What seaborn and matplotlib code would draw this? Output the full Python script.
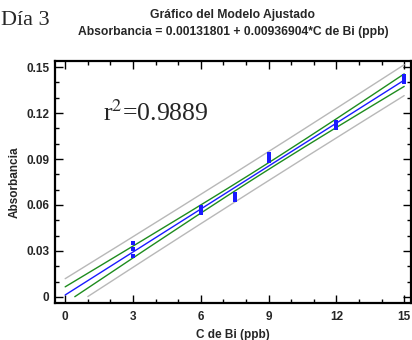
import numpy as np
import pandas as pd
import seaborn as sns
import matplotlib
matplotlib.use("Agg")
import matplotlib.pyplot as plt
from matplotlib.ticker import MultipleLocator

# ---- data ----
conc = [3, 3, 3, 6, 6, 6, 7.5, 7.5, 7.5, 9, 9, 9, 12, 12, 12, 15, 15, 15]
absorb = [0.027, 0.031, 0.035, 0.055, 0.057, 0.059, 0.063, 0.065, 0.067,
          0.089, 0.091, 0.093, 0.110, 0.113, 0.114, 0.140, 0.142, 0.144]
x_ticks = [0, 3, 6, 9, 12, 15]
y_ticks = [0, 0.03, 0.06, 0.09, 0.12, 0.15]
y_tick_labels = ["0", "0.03", "0.06", "0.09", "0.12", "0.15"]
title_lines = ["Gráfico del Modelo Ajustado",
               "Absorbancia = 0.00131801 + 0.00936904*C de Bi (ppb)"]
r2_text = "r$^2$=0.9889"
day_text = "Día 3"

# ---- fit & 95% bands ----
x = np.array(conc, float)
y = np.array(absorb, float)
n = len(x)
b1, b0 = np.polyfit(x, y, 1)
res = y - (b0 + b1 * x)
s = np.sqrt(np.sum(res**2) / (n - 2))
sxx = np.sum((x - x.mean())**2)
t = 2.1199  # t(0.975, 16)
xg = np.linspace(0, 15, 600)
yg = b0 + b1 * xg
se_m = s * np.sqrt(1 / n + (xg - x.mean())**2 / sxx)
se_p = s * np.sqrt(1 + 1 / n + (xg - x.mean())**2 / sxx)
def clip(v):
    return np.where(v < 0, np.nan, v)
band = pd.DataFrame({
    "x": np.concatenate([xg] * 5),
    "y": np.concatenate([clip(yg), clip(yg + t * se_m), clip(yg - t * se_m),
                         clip(yg + t * se_p), clip(yg - t * se_p)]),
    "kind": (["fit"] * len(xg) + ["cu"] * len(xg) + ["cl"] * len(xg)
             + ["pu"] * len(xg) + ["pl"] * len(xg)),
})
pts = pd.DataFrame({"x": x, "y": y})

sns.set_style("ticks")
plt.rcParams["font.family"] = ["Liberation Sans", "DejaVu Sans"]

fig = plt.figure(figsize=(4.12, 3.40), dpi=100)
ax = fig.add_axes([0.1335, 0.1088, 0.9975 - 0.1335, 0.8206 - 0.1088])

palette = {"fit": "#1a1aff", "cu": "#1e8c1e", "cl": "#1e8c1e",
           "pu": "#b8b8b8", "pl": "#b8b8b8"}
for k in ["pu", "pl", "cu", "cl", "fit"]:
    sns.lineplot(data=band[band.kind == k], x="x", y="y", color=palette[k],
                 lw=1.0, ax=ax, legend=False, sort=False)
sns.scatterplot(data=pts, x="x", y="y", ax=ax, marker="s", s=5,
                color="#1a1aff", edgecolor="#1a1aff", linewidth=0, zorder=5)

ax.set_xlim(-0.45, 15.3)
ax.set_ylim(-0.004, 0.154)
ax.set_xticks(x_ticks)
ax.set_yticks(y_ticks)
ax.set_yticklabels(y_tick_labels)
ax.xaxis.set_minor_locator(MultipleLocator(1))
ax.yaxis.set_minor_locator(MultipleLocator(0.01))
ax.tick_params(which="both", direction="in", top=True, right=True,
               labelsize=8.5, width=1.0, color="black")
ax.tick_params(axis="x", pad=6)
ax.tick_params(axis="y", pad=4)
ax.tick_params(which="major", length=6)
ax.tick_params(which="minor", length=3)
for lab in ax.get_xticklabels() + ax.get_yticklabels():
    lab.set_fontweight("bold")
for sp in ax.spines.values():
    sp.set_linewidth(1.6)
    sp.set_color("black")

ax.set_xlabel("C de Bi (ppb)", fontsize=8.5, fontweight="bold", labelpad=4)
ax.set_ylabel("Absorbancia", fontsize=8.5, fontweight="bold", labelpad=4)

fig.text(233 / 412, 1 - 18 / 340, title_lines[0], ha="center", va="baseline",
         fontsize=8.75, fontweight="bold")
fig.text(233 / 412, 1 - 35 / 340, title_lines[1], ha="center", va="baseline",
         fontsize=8.75, fontweight="bold")
fig.text(1 / 412, 1 - 25 / 340, day_text, ha="left", va="baseline",
         fontsize=16, family=["Liberation Serif", "DejaVu Serif"])
fig.text(103 / 412, 1 - 121 / 340, r2_text, ha="left", va="baseline",
         fontsize=18.5, family=["Liberation Serif", "DejaVu Serif"],
         math_fontfamily="stix")

fig.savefig("out.png", dpi=100)
